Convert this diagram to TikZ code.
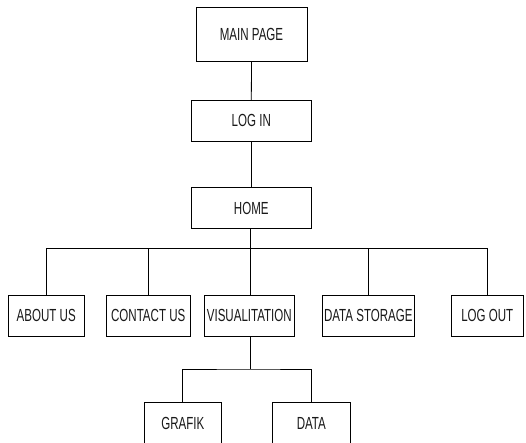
\documentclass[tikz,border=0pt]{standalone}
\usepackage{fontspec}
\setmainfont[FakeStretch=0.66]{Liberation Sans}
\begin{document}
\begin{tikzpicture}[x=1pt,y=-1pt,
  box/.style={draw=black,line width=0.8pt,rectangle,inner sep=0pt,
    font=\fontsize{17.5}{19}\selectfont,text=black!90},
  conn/.style={draw=black,line width=0.8pt}]
\useasboundingbox (0,0) rectangle (526,442);
\node[box,minimum width=111pt,minimum height=54pt] (main) at (251.5,34) {MAIN PAGE};
\node[box,minimum width=120pt,minimum height=40.5pt] (login) at (251.3,120.8) {LOG IN};
\node[box,minimum width=120pt,minimum height=40.5pt] (home) at (251.3,208) {HOME};
\node[box,minimum width=75.7pt,minimum height=41pt] (about) at (46.2,315.5) {ABOUT US};
\node[box,minimum width=84.3pt,minimum height=41pt] (contact) at (148.2,315.5) {CONTACT US};
\node[box,minimum width=89.3pt,minimum height=41pt] (visual) at (249.3,315.5) {VISUALITATION};
\node[box,minimum width=92.7pt,minimum height=41pt] (storage) at (368.3,315.5) {DATA STORAGE};
\node[box,minimum width=71.3pt,minimum height=41pt] (logout) at (487.3,315.5) {LOG OUT};
\node[box,minimum width=77.7pt,minimum height=41pt] (grafik) at (182.8,423.2) {GRAFIK};
\node[box,minimum width=77.3pt,minimum height=41pt] (data) at (311.3,423.2) {DATA};
\coordinate (bus) at (250,248.3);
\coordinate (sub) at (250,369);
\draw[conn] (main.south) -- (login.north);
\draw[conn] (login.south) -- (home.north);
\draw[conn] (home.south -| bus) -- (visual.north -| bus);
\draw[conn] (about.north) |- (bus) -| (logout.north);
\draw[conn] (contact.north) -- (contact.north |- bus);
\draw[conn] (storage.north) -- (storage.north |- bus);
\draw[conn] (visual.south -| sub) -- (sub);
\draw[conn] (grafik.north) |- (sub) -| (data.north);
\end{tikzpicture}
\end{document}
